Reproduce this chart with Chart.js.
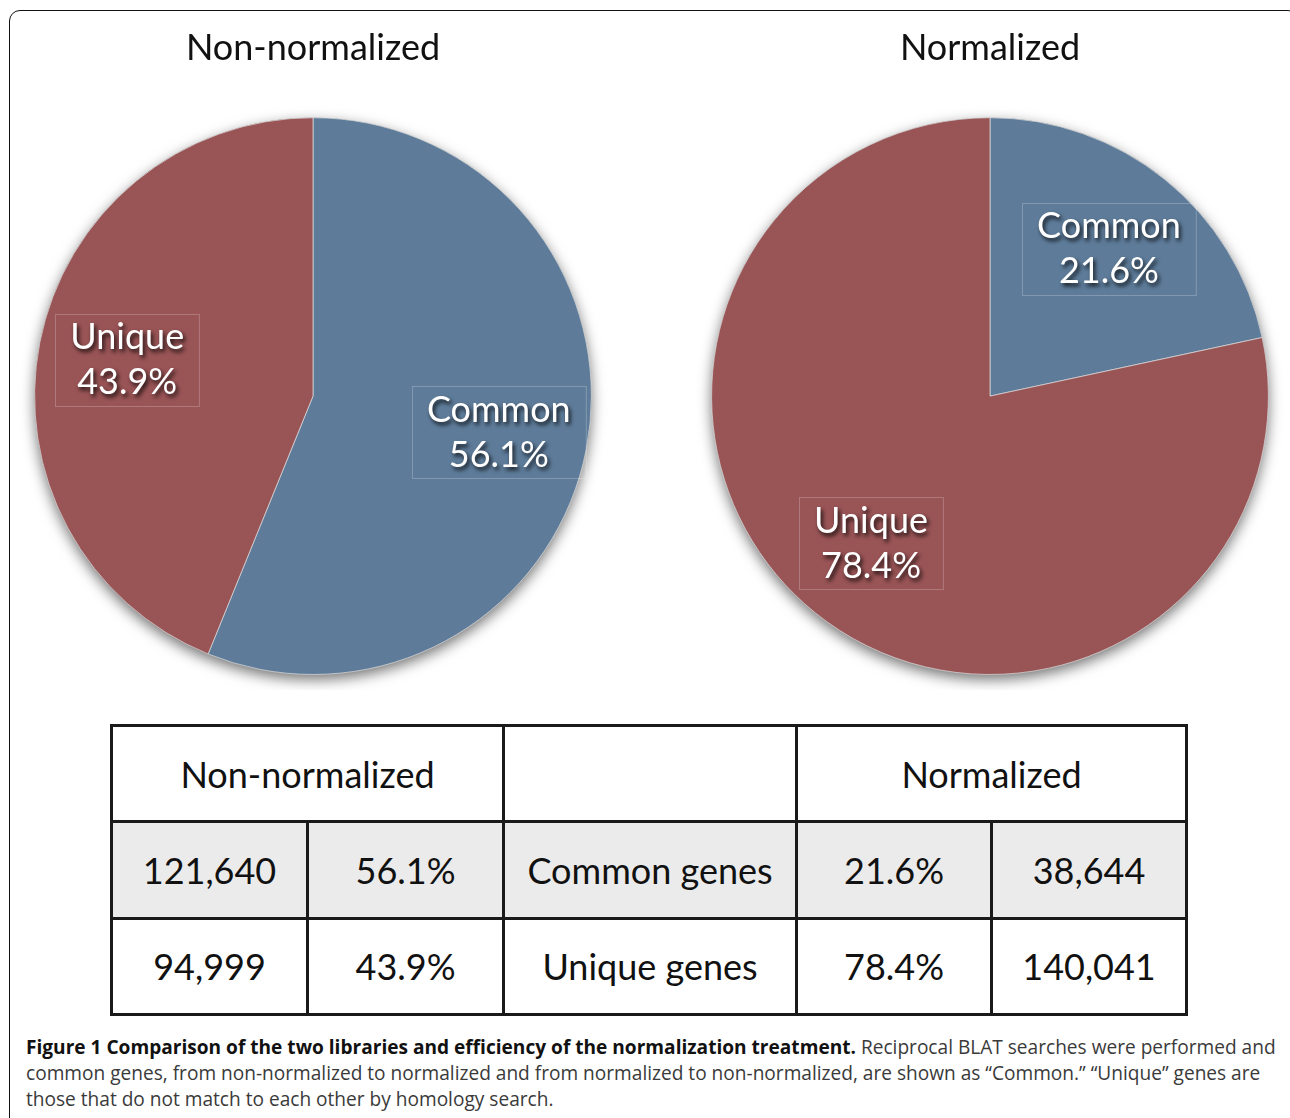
<!DOCTYPE html>
<html>
<head>
<meta charset="utf-8">
<script src="https://cdn.jsdelivr.net/npm/chart.js@4"></script>
<style>
  html, body { margin: 0; padding: 0; background: #fff; overflow: hidden; }
  body { width: 1290px; height: 1118px; position: relative; }
  .frame {
    position: absolute; left: 9px; top: 10px; width: 1290px; height: 1200px;
    border: 1.5px solid #111; border-radius: 11px; box-sizing: border-box;
  }
  .pie { position: absolute; top: 0; }
  #pie1 { left: 0; width: 626px; height: 690px; }
  #pie2 { left: 680px; width: 620px; height: 690px; }
  table {
    position: absolute; left: 110px; top: 724px; width: 1075px; height: 292px;
    border-collapse: collapse; font-family: Lato, "Open Sans", sans-serif;
    font-size: 36px; color: #111; table-layout: fixed;
  }
  td { border: 3px solid #1a1a1a; text-align: center; padding: 0; height: 92px; line-height: 40px; }
  tr.grey td { background: #ebebeb; }
  .caption {
    position: absolute; left: 26px; top: 1034px; width: 1264px;
    font-family: "Open Sans", sans-serif; font-size: 19.1px; line-height: 26px;
    color: #3a3a3a; white-space: nowrap;
  }
  .caption b { color: #111; }
</style>
</head>
<body>
<div class="frame"></div>
<div class="pie" id="pie1"><canvas id="canvas"></canvas></div>
<div class="pie" id="pie2"><canvas id="canvas2"></canvas></div>
<table id="tabla"></table>
<div class="caption">
<b>Figure 1 Comparison of the two libraries and efficiency of the normalization treatment.</b> Reciprocal BLAT searches were performed and<br>
common genes, from non-normalized to normalized and from normalized to non-normalized, are shown as “Common.” “Unique” genes are<br>
those that do not match to each other by homology search.
</div>
<script>
// datos de la figura
const categorias = ["Common", "Unique"];
const conteoNoNorm = [121640, 94999];
const conteoNorm = [38644, 140041];
const pctNoNorm = ["56.1%", "43.9%"];
const pctNorm = ["21.6%", "78.4%"];
const colores = ["#5e7c9a", "#995456"];

// sombra bajo el pastel
const sombraPastel = {
  id: "sombraPastel",
  beforeDatasetsDraw(chart) {
    const arc = chart.getDatasetMeta(0).data[0];
    if (!arc) return;
    const ctx = chart.ctx;
    ctx.save();
    ctx.shadowColor = "rgba(0,0,0,0.55)";
    ctx.shadowBlur = 14;
    ctx.shadowOffsetY = 5;
    ctx.beginPath();
    ctx.arc(arc.x, arc.y, arc.outerRadius, 0, Math.PI * 2);
    ctx.fillStyle = "#777";
    ctx.fill();
    ctx.restore();
  },
};

// etiquetas blancas dentro de cada porcion
const etiquetas = {
  id: "etiquetas",
  afterDatasetsDraw(chart, args, opts) {
    const ctx = chart.ctx;
    const meta = chart.getDatasetMeta(0);
    meta.data.forEach((arc, i) => {
      const mid = (arc.startAngle + arc.endAngle) / 2;
      const r = arc.outerRadius * 0.68;
      const x = arc.x + Math.cos(mid) * r;
      const y = arc.y + Math.sin(mid) * r;
      const lineas = [chart.data.labels[i], opts.pct[i]];
      ctx.save();
      ctx.font = "36px Lato, 'Open Sans', sans-serif";
      ctx.textAlign = "center";
      ctx.textBaseline = "middle";
      const w = Math.max(...lineas.map((t) => ctx.measureText(t).width)) + 30;
      ctx.strokeStyle = "rgba(255,255,255,0.22)";
      ctx.lineWidth = 1;
      ctx.strokeRect(Math.round(x - w / 2) + 0.5, Math.round(y - 46) + 0.5, w, 92);
      ctx.shadowColor = "rgba(0,0,0,0.85)";
      ctx.shadowBlur = 4;
      ctx.shadowOffsetX = 2;
      ctx.shadowOffsetY = 3;
      ctx.fillStyle = "#fff";
      ctx.fillText(lineas[0], x, y - 22);
      ctx.fillText(lineas[1], x, y + 23);
      ctx.restore();
    });
  },
};

function pintarPastel(id, titulo, conteos, pcts) {
  new Chart(document.getElementById(id), {
    type: "pie",
    data: {
      labels: categorias,
      datasets: [
        {
          data: conteos,
          backgroundColor: colores,
          borderColor: "rgba(225,225,225,0.7)",
          borderWidth: 1,
          hoverOffset: 0,
          offset: 0,
        },
      ],
    },
    options: {
      responsive: true,
      maintainAspectRatio: false,
      animation: false,
      events: [],
      layout: { padding: { top: 0, bottom: 15, left: 0, right: 0 } },
      plugins: {
        legend: { display: false },
        tooltip: { enabled: false },
        title: {
          display: true,
          text: titulo,
          color: "#111",
          font: { family: "Lato, 'Open Sans', sans-serif", size: 36, weight: "normal" },
          padding: { top: 27, bottom: 47 },
        },
        etiquetas: { pct: pcts },
      },
    },
    plugins: [sombraPastel, etiquetas],
  });
}

pintarPastel("canvas", "Non-normalized", conteoNoNorm, pctNoNorm);
pintarPastel("canvas2", "Normalized", conteoNorm, pctNorm);

// tabla resumen
function pintarTabla() {
  const fmt = (n) => n.toLocaleString("en-US");
  const t = document.getElementById("tabla");
  t.innerHTML =
    '<colgroup><col style="width:196px"><col style="width:196px"><col style="width:293px"><col style="width:195px"><col style="width:195px"></colgroup>' +
    '<tr><td colspan="2">Non-normalized</td><td></td><td colspan="2">Normalized</td></tr>' +
    categorias
      .map(
        (c, i) =>
          `<tr class="${i === 0 ? "grey" : ""}"><td>${fmt(conteoNoNorm[i])}</td><td>${pctNoNorm[i]}</td>` +
          `<td>${c} genes</td><td>${pctNorm[i]}</td><td>${fmt(conteoNorm[i])}</td></tr>`
      )
      .join("");
}
pintarTabla();
</script>
</body>
</html>
